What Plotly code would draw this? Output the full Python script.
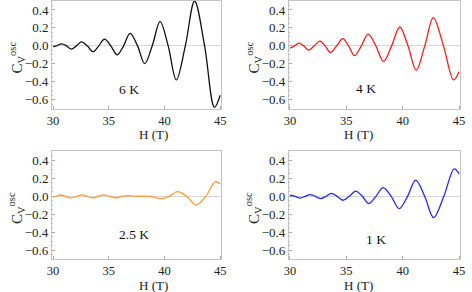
import plotly.graph_objects as go

# ---- data ----
h_6k = [30.0, 30.3, 30.76, 31.2, 31.63, 32.1, 32.56, 33.07, 33.58, 34.1, 34.62, 35.18, 35.75,
        36.33, 36.91, 37.58, 38.22, 38.9, 39.6, 40.33, 41.06, 41.87, 42.7, 43.6, 44.48, 45.0]
c_6k = [-0.01, 0.0, 0.022, 0.0, -0.037, 0.0, 0.044, 0.0, -0.065, 0.0, 0.074, 0.0, -0.10,
        0.0, 0.14, 0.0, -0.198, 0.0, 0.27, 0.0, -0.38, 0.0, 0.50, 0.0, -0.685, -0.55]

h_4k = [30.0, 30.4, 30.78, 31.22, 31.67, 32.16, 32.65, 33.12, 33.6, 34.14, 34.68, 35.2, 35.72,
        36.33, 36.94, 37.62, 38.3, 39.02, 39.74, 40.47, 41.2, 41.96, 42.72, 43.62, 44.52, 45.0]
c_4k = [-0.025, 0.0, 0.03, 0.0, -0.048, 0.0, 0.052, 0.0, -0.074, 0.0, 0.08, 0.0, -0.11,
        0.0, 0.13, 0.0, -0.174, 0.0, 0.21, 0.0, -0.27, 0.0, 0.315, 0.0, -0.38, -0.29]

h_25k = [30.0, 30.3, 30.61, 31.12, 31.63, 32.1, 32.56, 33.04, 33.52, 34.02, 34.53, 35.08, 35.64,
         36.18, 36.72, 37.3, 38.0, 38.7, 39.62, 40.4, 41.16, 42.0, 42.82, 43.7, 44.56, 45.0]
c_25k = [-0.007, 0.0, 0.015, 0.0, -0.018, 0.0, 0.016, 0.0, -0.018, 0.0, 0.016, 0.0, -0.017,
         0.0, 0.008, 0.0, 0.002, 0.0, -0.026, 0.0, 0.052, 0.0, -0.097, 0.0, 0.162, 0.137]

h_1k = [30.0, 30.45, 30.9, 31.35, 31.79, 32.25, 32.72, 33.2, 33.67, 34.18, 34.69, 35.26, 35.84,
        36.42, 36.99, 37.63, 38.27, 38.98, 39.7, 40.43, 41.16, 41.95, 42.75, 43.65, 44.57, 45.0]
c_1k = [0.012, 0.0, -0.019, 0.0, 0.019, 0.0, -0.026, 0.0, 0.033, 0.0, -0.044, 0.0, 0.059,
        0.0, -0.081, 0.0, 0.098, 0.0, -0.137, 0.0, 0.18, 0.0, -0.238, 0.0, 0.305, 0.25]

panel_labels = ["6 K", "4 K", "2.5 K", "1 K"]
label_pos = [(36.84, -0.49), (36.75, -0.47), (37.28, -0.43), (37.63, -0.48)]
colors = ["#111111", "#ff1a1a", "#ff9a33", "#2626ff"]
x_ticks = [30, 35, 40, 45]
y_ticks = [-0.6, -0.4, -0.2, 0.0, 0.2, 0.4]

series = [(h_6k, c_6k), (h_4k, c_4k), (h_25k, c_25k), (h_1k, c_1k)]

W, H = 472, 292
# plot areas in pixels: (left, right, top, bottom)
boxes = [(48, 221, 0, 108), (290, 465, 0, 108), (48, 221, 151, 259), (290, 465, 151, 259)]

FONT = "Liberation Serif"
fig = go.Figure()
layout = dict(width=W, height=H, margin=dict(l=0, r=0, t=0, b=0),
              paper_bgcolor="white", plot_bgcolor="white", showlegend=False,
              font=dict(family=FONT, size=12.5, color="#222222"))
annotations = []

for i, ((hx, cy), col, (l, r, t, b)) in enumerate(zip(series, colors, boxes)):
    n = "" if i == 0 else str(i + 1)
    fig.add_trace(go.Scatter(x=hx, y=cy, mode="lines",
                             line=dict(color=col, width=1.3, shape="spline", smoothing=1.0),
                             xaxis="x" + n, yaxis="y" + n, cliponaxis=True))
    layout["xaxis" + n] = dict(domain=[l / W, r / W], anchor="y" + n, range=[29.9, 45.1],
                               tickvals=x_ticks, showgrid=False, zeroline=False,
                               showline=True, mirror=True, linecolor="#c4c4c4", linewidth=1,
                               ticks="inside", ticklen=3, tickcolor="#aaaaaa",
                               tickfont=dict(family=FONT, size=12.5, color="#222222"))
    layout["yaxis" + n] = dict(domain=[1 - b / H, 1 - t / H], anchor="x" + n, range=[-0.7, 0.5],
                               tickvals=y_ticks, tickformat=".1f", showgrid=False,
                               zeroline=True, zerolinecolor="#d6d6d6", zerolinewidth=1,
                               showline=True, mirror=True, linecolor="#c4c4c4", linewidth=1,
                               ticks="inside", ticklen=3, tickcolor="#aaaaaa",
                               minor=dict(ticks="inside", ticklen=1.5, tickcolor="#bbbbbb", dtick=0.05),
                               tickfont=dict(family=FONT, size=13, color="#222222"))
    # panel temperature label
    annotations.append(dict(x=label_pos[i][0], y=label_pos[i][1], xref="x" + n, yref="y" + n,
                            text=panel_labels[i], showarrow=False,
                            font=dict(family=FONT, size=13.5, color="#111111")))
    # x-axis title
    annotations.append(dict(x=(l + r) / 2 / W, y=1 - (b + 26) / H, xref="paper", yref="paper",
                            text="H (T)", showarrow=False, yanchor="middle",
                            font=dict(family=FONT, size=13, color="#222222")))
    # y-axis title
    annotations.append(dict(x=(l - 36) / W, y=1 - ((t + b) / 2 + 3) / H, xref="paper", yref="paper",
                            text="C<sub>V</sub><sup>osc</sup>", showarrow=False, textangle=-90,
                            xanchor="center", yanchor="middle",
                            font=dict(family=FONT, size=15, color="#222222")))

layout["annotations"] = annotations
fig.update_layout(**layout)
fig.write_html("out.html", config={"displayModeBar": False},
               post_script="document.body.style.margin='0';document.body.style.overflow='hidden';")
